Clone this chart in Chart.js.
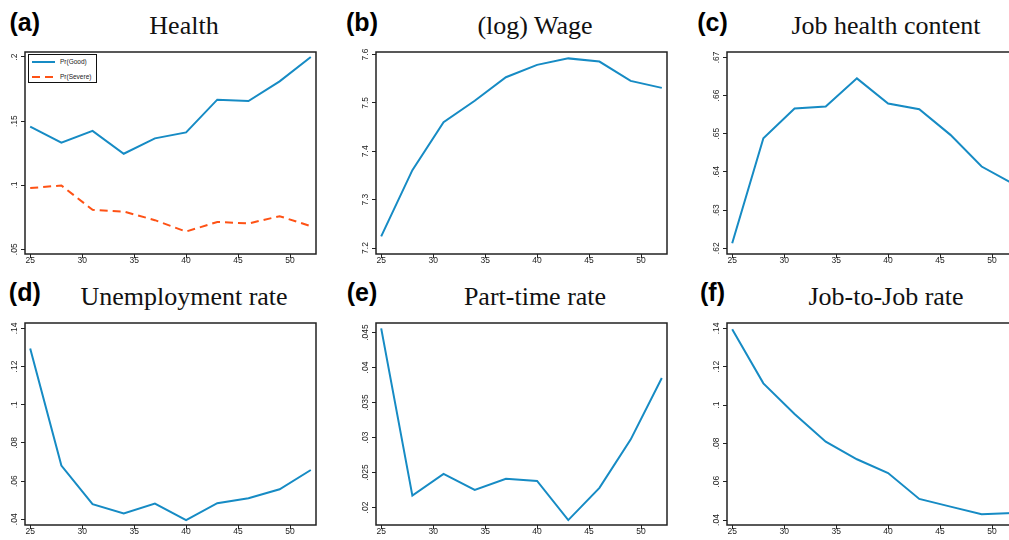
<!DOCTYPE html>
<html>
<head>
<meta charset="utf-8">
<script src="https://cdn.jsdelivr.net/npm/chart.js@4/dist/chart.umd.min.js"></script>
<style>
  html, body { margin: 0; padding: 0; background: #fff; overflow: hidden; }
  #fig { position: relative; width: 1009px; height: 540px; overflow: hidden; background: #fff; }
  #fig canvas { position: absolute; }
  .ttl { position: absolute; font: 26px/26px "Liberation Serif", "Times New Roman", serif; color: #111;
         white-space: nowrap; transform: translateX(-50%); }
  .tag { position: absolute; font: bold 25px/25px "Liberation Sans", Arial, sans-serif; color: #000;
         white-space: nowrap; transform: translateX(-50%); }
  .lgd { position: absolute; box-sizing: border-box; border: 1px solid #111; background: #fff; }
  .lgd svg { position: absolute; }
  .lgd span { position: absolute; font: 6.5px/8px "Liberation Sans", Arial, sans-serif; color: #222; white-space: nowrap; }
</style>
</head>
<body>
<div id="fig"></div>
<script>
// Ages on the horizontal axis (three-year bins)
const ages = [25, 28, 31, 34, 37, 40, 43, 46, 49, 52];
const ageTicks = [25, 30, 35, 40, 45, 50];

// (a) Health
const prGood   = [0.1456, 0.1331, 0.1424, 0.1245, 0.1365, 0.1412, 0.1667, 0.1656, 0.1810, 0.2000];
const prSevere = [0.0977, 0.0998, 0.0808, 0.0794, 0.0727, 0.0638, 0.0713, 0.0701, 0.0758, 0.0680];
const healthTicks = [0.05, 0.10, 0.15, 0.20];

// (b) (log) Wage
const logWage = [7.224, 7.361, 7.460, 7.5045, 7.553, 7.5786, 7.592, 7.5855, 7.5454, 7.531];
const wageTicks = [7.2, 7.3, 7.4, 7.5, 7.6];

// (c) Job health content
const jobHealth = [0.6213, 0.6488, 0.6566, 0.6571, 0.6645, 0.6579, 0.6564, 0.6497, 0.6414, 0.6369];
const jobHealthTicks = [0.62, 0.63, 0.64, 0.65, 0.66, 0.67];

// (d) Unemployment rate
const unempRate = [0.1294, 0.0681, 0.0479, 0.0431, 0.0482, 0.0396, 0.0484, 0.0510, 0.0557, 0.0658];
const unempTicks = [0.04, 0.06, 0.08, 0.10, 0.12, 0.14];

// (e) Part-time rate
const partTimeRate = [0.0456, 0.0217, 0.0248, 0.0225, 0.0241, 0.0238, 0.0182, 0.0228, 0.0297, 0.0385];
const partTimeTicks = [0.020, 0.025, 0.030, 0.035, 0.040, 0.045];

// (f) Job-to-Job rate
const j2jRate = [0.1395, 0.1113, 0.0953, 0.0809, 0.0717, 0.0645, 0.0510, 0.0470, 0.0430, 0.0436];
const j2jTicks = [0.04, 0.06, 0.08, 0.10, 0.12, 0.14];

// ---- styling / layout ----
const BLUE = '#168bc4';
const ORANGE = '#fe5215';
const INK = '#222';
const TICK_FONT = { family: "'Liberation Sans', Arial, sans-serif", size: 8.5 };
const TICK_LEN = 4;
const Y_LABEL_GAP = 10;          // distance from frame to the centre of the rotated y labels
const AX = 26, XH = 18, PT = 6, PR = 6;
const FRAME_W = 291, FRAME_H = 202;
const COLS = [25, 376, 727];
const ROWS = [52, 323];

const fig = document.getElementById('fig');

// Stata-like number format: no leading zero
function fmt(v) {
  const s = String(+v.toFixed(4));
  return s.replace(/^0\./, '.').replace(/^-0\./, '-.');
}

function labelPad(ticks) {
  const ctx = document.createElement('canvas').getContext('2d');
  ctx.font = `${TICK_FONT.size}px ${TICK_FONT.family}`;
  const widest = Math.max(...ticks.map(t => ctx.measureText(fmt(t)).width));
  return Y_LABEL_GAP - TICK_LEN - widest / 2;
}

const framePlugin = {
  id: 'frame',
  beforeDatasetsDraw(chart) {
    const { ctx, chartArea: a } = chart;
    ctx.save();
    ctx.strokeStyle = INK;
    ctx.lineWidth = 1.5;
    ctx.strokeRect(a.left, a.top, a.right - a.left, a.bottom - a.top);
    ctx.restore();
  }
};

function pairs(ys) { return ages.map((x, i) => ({ x, y: ys[i] })); }

function addText(cls, text, x, y) {
  const d = document.createElement('div');
  d.className = cls;
  d.textContent = text;
  d.style.left = x + 'px';
  d.style.top = y + 'px';
  fig.appendChild(d);
}

function panel({ col, row, tag, title, series, yMin, yMax, yTicks }) {
  const L = COLS[col], T = ROWS[row];
  const cv = document.createElement('canvas');
  const w = AX + FRAME_W + PR, h = PT + FRAME_H + XH;
  cv.width = w; cv.height = h;
  cv.style.width = w + 'px'; cv.style.height = h + 'px';
  cv.style.left = (L - AX) + 'px';
  cv.style.top = (T - PT) + 'px';
  fig.appendChild(cv);

  const tagX = [24.8, 362, 712.5][col];
  addText('tag', tag, tagX, row === 0 ? 10 : 280);
  addText('ttl', title, L + 159, row === 0 ? 13 : 284);

  new Chart(cv, {
    type: 'line',
    data: {
      datasets: series.map(s => ({
        label: s.label,
        data: pairs(s.values),
        borderColor: s.color,
        backgroundColor: s.color,
        borderWidth: 2,
        borderDash: s.dash || [],
        pointRadius: 0,
        tension: 0,
        fill: false
      }))
    },
    options: {
      responsive: false,
      animation: false,
      devicePixelRatio: 1,
      layout: { padding: { top: PT, right: PR, left: 0, bottom: 0 } },
      plugins: { legend: { display: false }, tooltip: { enabled: false }, title: { display: false } },
      scales: {
        x: {
          type: 'linear',
          min: 24.5, max: 52.5,
          afterBuildTicks: sc => { sc.ticks = ageTicks.map(v => ({ value: v })); },
          afterFit: sc => { sc.height = XH; },
          border: { display: false },
          grid: { display: true, drawOnChartArea: false, drawTicks: true, tickLength: TICK_LEN, color: INK, lineWidth: 1 },
          ticks: { font: TICK_FONT, color: INK, padding: -2, maxRotation: 0, autoSkip: false, callback: v => String(v) }
        },
        y: {
          type: 'linear',
          min: yMin, max: yMax,
          afterBuildTicks: sc => { sc.ticks = yTicks.map(v => ({ value: v })); },
          afterFit: sc => { sc.width = AX; },
          border: { display: false },
          grid: { display: true, drawOnChartArea: false, drawTicks: true, tickLength: TICK_LEN, color: INK, lineWidth: 1 },
          ticks: {
            font: TICK_FONT, color: INK, autoSkip: false,
            minRotation: 90, maxRotation: 90, crossAlign: 'center',
            padding: labelPad(yTicks),
            callback: v => fmt(v)
          }
        }
      }
    },
    plugins: [framePlugin]
  });
}

panel({ col: 0, row: 0, tag: '(a)', title: 'Health',
  series: [
    { label: 'Pr(Good)', values: prGood, color: BLUE },
    { label: 'Pr(Severe)', values: prSevere, color: ORANGE, dash: [8, 5] }
  ],
  yMin: 0.0463, yMax: 0.2039, yTicks: healthTicks });

panel({ col: 1, row: 0, tag: '(b)', title: '(log) Wage',
  series: [{ label: 'log wage', values: logWage, color: BLUE }],
  yMin: 7.1876, yMax: 7.6052, yTicks: wageTicks });

panel({ col: 2, row: 0, tag: '(c)', title: 'Job health content',
  series: [{ label: 'job health content', values: jobHealth, color: BLUE }],
  yMin: 0.6185, yMax: 0.6714, yTicks: jobHealthTicks });

panel({ col: 0, row: 1, tag: '(d)', title: 'Unemployment rate',
  series: [{ label: 'unemployment rate', values: unempRate, color: BLUE }],
  yMin: 0.0370, yMax: 0.1428, yTicks: unempTicks });

panel({ col: 1, row: 1, tag: '(e)', title: 'Part-time rate',
  series: [{ label: 'part-time rate', values: partTimeRate, color: BLUE }],
  yMin: 0.0175, yMax: 0.04636, yTicks: partTimeTicks });

panel({ col: 2, row: 1, tag: '(f)', title: 'Job-to-Job rate',
  series: [{ label: 'job-to-job rate', values: j2jRate, color: BLUE }],
  yMin: 0.0374, yMax: 0.1428, yTicks: j2jTicks });

// Legend box for panel (a)
(function legend() {
  const box = document.createElement('div');
  box.className = 'lgd';
  box.style.left = '28px'; box.style.top = '54px';
  box.style.width = '69px'; box.style.height = '29px';
  const items = [
    { text: 'Pr(Good)', color: BLUE, dash: '', y: 7 },
    { text: 'Pr(Severe)', color: ORANGE, dash: '8 5', y: 22 }
  ];
  items.forEach(it => {
    const svg = document.createElementNS('http://www.w3.org/2000/svg', 'svg');
    svg.setAttribute('width', '24'); svg.setAttribute('height', '4');
    svg.style.left = '3px'; svg.style.top = (it.y - 2) + 'px';
    const ln = document.createElementNS('http://www.w3.org/2000/svg', 'line');
    ln.setAttribute('x1', '0'); ln.setAttribute('x2', '23');
    ln.setAttribute('y1', '2'); ln.setAttribute('y2', '2');
    ln.setAttribute('stroke', it.color); ln.setAttribute('stroke-width', '2');
    if (it.dash) ln.setAttribute('stroke-dasharray', it.dash);
    svg.appendChild(ln);
    box.appendChild(svg);
    const sp = document.createElement('span');
    sp.textContent = it.text;
    sp.style.left = '31px'; sp.style.top = (it.y - 4) + 'px';
    box.appendChild(sp);
  });
  fig.appendChild(box);
})();
</script>
</body>
</html>
